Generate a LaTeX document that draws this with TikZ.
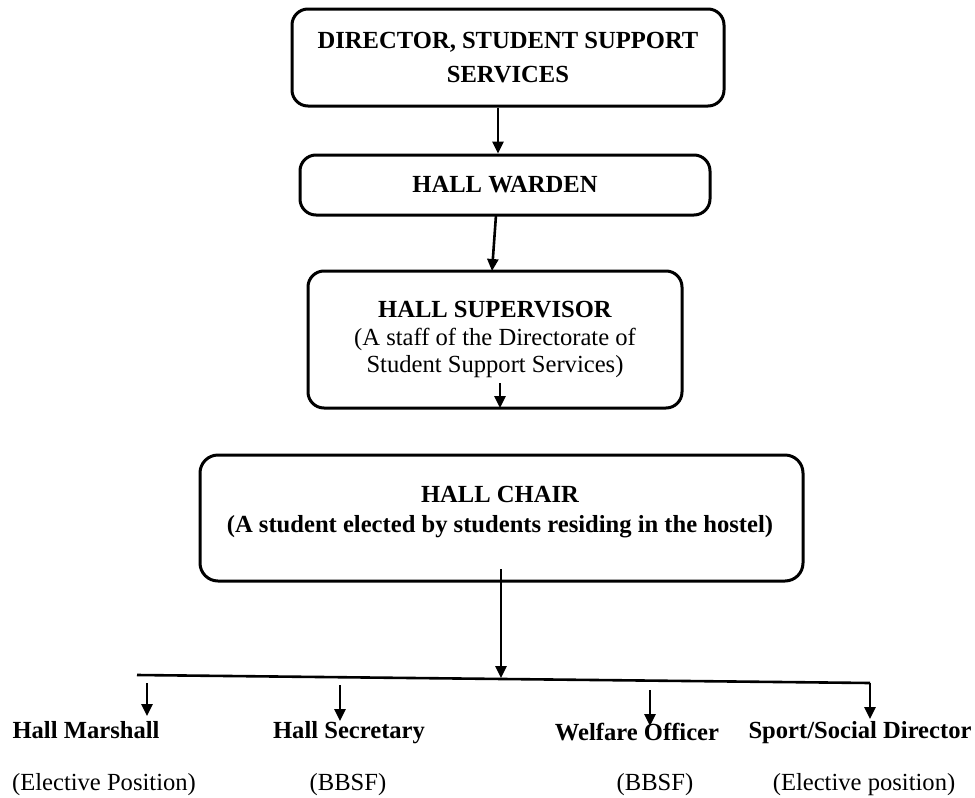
\documentclass[tikz,border=0pt]{standalone}
\usepackage{fontspec}
\setmainfont{Liberation Serif}
\usetikzlibrary{arrows.meta}
\begin{document}
\begin{tikzpicture}[x=0.5pt,y=-0.5pt,
  box/.style={draw=black,line width=1.5pt,rounded corners=8pt,inner sep=0pt,align=center},
  conn/.style={draw=black,line width=1.3pt,-{Triangle[width=5.5pt,length=6pt]}},
  bus/.style={draw=black,line width=1.3pt},
  lbl/.style={inner sep=0pt,anchor=base,font=\fontsize{12.3}{15}\selectfont\bfseries},
  sub/.style={inner sep=0pt,anchor=base,font=\fontsize{12.3}{15}\selectfont}]
\useasboundingbox (0,0) rectangle (975,798);
\fill[white] (0,0) rectangle (975,798);

\node[box,minimum width=216pt,minimum height=48.5pt,font=\fontsize{12.3}{17}\selectfont\bfseries]
  (dir) at (508,57.5) {DIRECTOR, STUDENT SUPPORT\\SERVICES};
\node[box,minimum width=205pt,minimum height=30pt,font=\fontsize{12.3}{15}\selectfont\bfseries]
  (warden) at (505,185) {HALL WARDEN};
\node[box,minimum width=187pt,minimum height=68.5pt,font=\fontsize{12.3}{13.8}\selectfont]
  (sup) at (495,339.5) {\textbf{HALL SUPERVISOR}\\(A staff of the Directorate of\\Student Support Services)};
\node[box,rounded corners=9pt,minimum width=301.5pt,minimum height=63pt] (chair) at (501.5,518) {};
\node[inner sep=0pt,align=center,font=\fontsize{12.3}{15}\selectfont\bfseries] (chairtext) at (500,512)
  {HALL CHAIR\\(A student elected by students residing in the hostel)};

% top arrows
\draw[conn] (dir.south -| 498,0) -- (warden.north -| 498,0);
\coordinate (w1) at (496,215);
\coordinate (s1) at (492,271);
\draw[conn] (w1) -- (s1);
\coordinate (s2) at (500,383);
\coordinate (s3) at (500,408);
\draw[conn] (s2) -- (s3);

% bus
\coordinate (c1) at (501,569);
\coordinate (bl) at (137,675);
\coordinate (bm) at (501,678);
\coordinate (br) at (870,683);
\coordinate (bre) at (870,719);
\draw[conn] (c1) -- (bm);
\draw[bus] (bl) -- (br);
\draw[conn] (br) -- (bre);

\coordinate (m1) at (147,683); \coordinate (m2) at (147,716);
\coordinate (h1) at (340,685); \coordinate (h2) at (340,721);
\coordinate (f1) at (650,690); \coordinate (f2) at (650,726);
\draw[conn] (m1) -- (m2);
\draw[conn] (h1) -- (h2);
\draw[conn] (f1) -- (f2);

% labels
\node[lbl] (marshall) at (86,738) {Hall Marshall};
\node[lbl] (secretary) at (349,738) {Hall Secretary};
\node[lbl] (welfare) at (637,740) {Welfare Officer};
\node[lbl] (sport) at (860,738) {Sport/Social Director};
\node[sub] (marshallsub) at (104,790) {(Elective Position)};
\node[sub] (secretarysub) at (348,790) {(BBSF)};
\node[sub] (welfaresub) at (655,790) {(BBSF)};
\node[sub] (sportsub) at (864,790) {(Elective position)};
\end{tikzpicture}
\end{document}
